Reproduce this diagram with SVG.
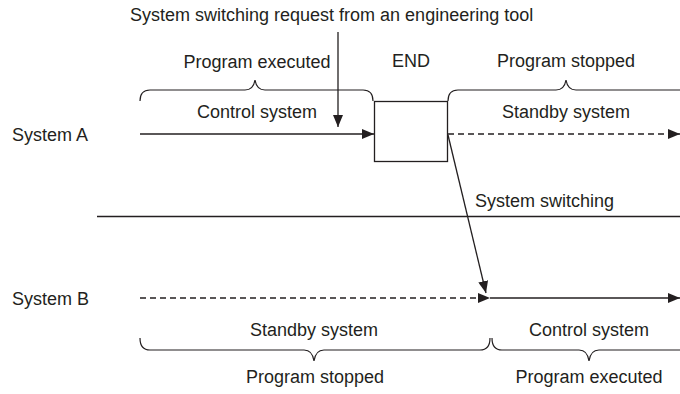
<svg xmlns="http://www.w3.org/2000/svg" width="680" height="394" viewBox="0 0 680 394">
<style>
text{font-family:"Liberation Sans",Arial,sans-serif;font-size:18px;fill:#231f20}
.c{text-anchor:middle}
.ln{stroke:#231f20;stroke-width:1.3;fill:none}
.d{stroke-dasharray:6,4}
.br{stroke:#231f20;stroke-width:1.2;fill:none}
</style>
<defs>
<marker id="ah" markerUnits="userSpaceOnUse" markerWidth="12" markerHeight="10" refX="12" refY="5" orient="auto">
<path d="M0,0 L12,5 L0,10 z" fill="#231f20"/>
</marker>
</defs>
<rect width="680" height="394" fill="#fff"/>
<g id="labels">
<text x="130" y="21">System switching request from an engineering tool</text>
<text x="12" y="141">System A</text>
<text x="12" y="305">System B</text>
<text x="475" y="207">System switching</text>
</g>
<g id="brace-a-exec">
<path class="br" d="M140,101 C140,94 143,90 150,90 L245,90 C251,90 254,86 255,80 C256,86 259,90 265,90 L363,90 C370,90 373,94 373,101"/>
<text class="c" x="257" y="68">Program executed</text>
<text class="c" x="257" y="118">Control system</text>
</g>
<g id="end">
<text class="c" x="411" y="67">END</text>
<rect class="ln" x="374.5" y="101.5" width="73" height="60"/>
</g>
<g id="brace-a-stop">
<path class="br" d="M448,101 C448,94 451,90 458,90 L556,90 C562,90 565,86 566,80 C567,86 570,90 576,90 L682,90"/>
<text class="c" x="566" y="67">Program stopped</text>
<text class="c" x="566" y="118">Standby system</text>
</g>
<g id="brace-b-stop">
<path class="br" d="M140,338 C140,345 143,350 150,350 L304,350 C310,350 313,354 314,361 C315,354 318,350 324,350 L480,350 C487,350 490,345 490,338"/>
<text class="c" x="314" y="336">Standby system</text>
<text class="c" x="315" y="383">Program stopped</text>
</g>
<g id="brace-b-exec">
<path class="br" d="M492,338 C492,345 495,350 502,350 L579,350 C585,350 588,354 589,361 C590,354 593,350 599,350 L682,350"/>
<text class="c" x="589" y="336">Control system</text>
<text class="c" x="589" y="383">Program executed</text>
</g>
<g id="connectors">
<line class="ln" x1="338" y1="32" x2="338" y2="127" marker-end="url(#ah)"/>
<line class="ln" x1="140" y1="134" x2="374" y2="134" marker-end="url(#ah)"/>
<line class="ln d" x1="448" y1="134" x2="680" y2="134" marker-end="url(#ah)"/>
<line class="ln" x1="97" y1="216.5" x2="680" y2="216.5"/>
<line class="ln" x1="448" y1="135" x2="486" y2="293" marker-end="url(#ah)"/>
<line class="ln d" x1="140" y1="298" x2="490" y2="298" marker-end="url(#ah)"/>
<line class="ln" x1="490" y1="298" x2="680" y2="298" marker-end="url(#ah)"/>
</g>
</svg>
